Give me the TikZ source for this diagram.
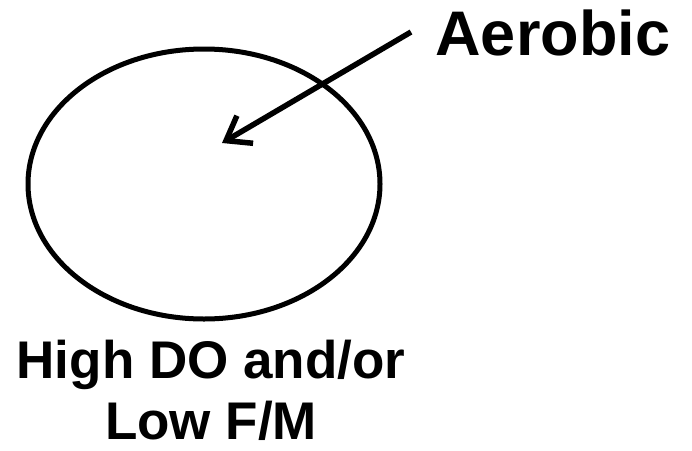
\documentclass[tikz,border=0pt]{standalone}
\usepackage{fontspec}
\setmainfont{Liberation Sans}
\usetikzlibrary{shapes.geometric,arrows.meta,positioning}

\begin{document}
\begin{tikzpicture}[x=1pt, y=-1pt, line width=5pt, >={Straight Barb[length=22pt, width=32pt]}]
  \tikzstyle{bigtext} = [font=\bfseries\fontsize{63}{63}\selectfont, inner sep=0pt]
  \tikzstyle{captext} = [font=\bfseries\fontsize{53}{61}\selectfont, inner sep=0pt, align=center]
  \useasboundingbox (0,0) rectangle (692,450);

  \node[ellipse, draw, minimum width=352pt, minimum height=270pt, inner sep=0pt] (zone) at (204,184) {};
  \node[bigtext, anchor=base west] (aerobic) at (433,55) {Aerobic};
  \node[captext, anchor=north] (cond) at (211,338) {High DO and/or\\Low F/M};

  \coordinate (tail) at (411,32);
  \coordinate (head) at (222,143);
  \draw[->, line width=5.5pt] (tail) -- (head);
\end{tikzpicture}
\end{document}
